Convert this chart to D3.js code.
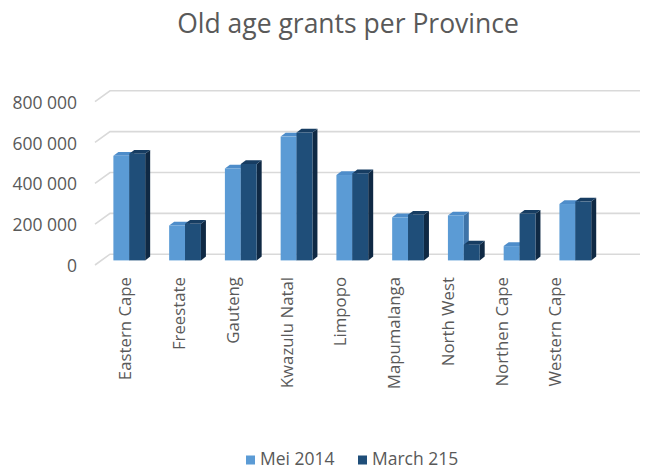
<!DOCTYPE html>
<html>
<head>
<meta charset="utf-8">
<script src="https://cdn.jsdelivr.net/npm/d3@7"></script>
<style>
  html, body { margin: 0; padding: 0; background: #fff; }
  svg { display: block; font-family: "Open Sans", sans-serif; }
</style>
</head>
<body>
<svg id="chart" width="663" height="470"></svg>
<script>
// Old age grants per province, two reporting periods
const categories = ["Eastern Cape", "Freestate", "Gauteng", "Kwazulu Natal", "Limpopo",
                    "Mapumalanga", "North West", "Northen Cape", "Western Cape"];
const mei2014   = [512000, 171000, 450000, 606000, 418000, 211000, 220000, 70000, 276000];
const march215  = [522000, 179000, 472000, 626000, 426000, 223000, 77000, 228000, 288000];
const seriesNames = ["Mei 2014", "March 215"];
const yTicks = [0, 200000, 400000, 600000, 800000];
const yTickLabels = ["0", "200 000", "400 000", "600 000", "800 000"];

const svg = d3.select("#chart");

// 3D layout: front plane, back wall and bar depth offsets
const wallDepth = { dx: 15, dy: -10.8 };
const barPlane  = { dx: 6.5, dy: -4.6 };
const barDepth  = { dx: 5, dy: -3.8 };

const y = d3.scaleLinear().domain([0, 800000]).range([265, 101.6]);
const xBar = d3.scaleBand().domain(categories).range([101.4, 603.2])
  .paddingInner(0.43).paddingOuter(0.215);
const xSeries = d3.scaleBand().domain(seriesNames).range([0, xBar.bandwidth()]);
const xLabel = d3.scaleBand().domain(categories).range([98.6, 582.4]);

const colors = {
  "Mei 2014":  { front: "#5b9bd5", top: "#4e8dca", side: "#3f74a8" },
  "March 215": { front: "#1f4e79", top: "#173d62", side: "#0f2944" }
};

// Title
svg.append("text")
  .attr("x", 348).attr("y", 33)
  .attr("text-anchor", "middle")
  .attr("font-size", 26.5)
  .attr("fill", "#595959")
  .text("Old age grants per Province");

// Gridlines: short slant across the side wall, then along the back wall
const gridRight = 640;
const grid = svg.append("g").attr("stroke", "#d9d9d9").attr("stroke-width", 1.6).attr("fill", "none");
const frontLeft = 95;
yTicks.forEach(t => {
  const yf = y(t);
  grid.append("path")
    .attr("d", `M${frontLeft},${yf} L${frontLeft + wallDepth.dx},${yf + wallDepth.dy} L${gridRight},${yf + wallDepth.dy}`);
});

// Y axis labels
svg.append("g").selectAll("text")
  .data(yTicks)
  .join("text")
  .attr("x", 77)
  .attr("y", d => y(d) + 1)
  .attr("dy", "0.35em")
  .attr("text-anchor", "end")
  .attr("font-size", 17.5)
  .attr("fill", "#595959")
  .text((d, i) => yTickLabels[i]);

// Bars drawn as prisms: front face, top face, right side face
const rows = [];
categories.forEach((c, i) => {
  rows.push({ cat: c, series: "Mei 2014", value: mei2014[i] });
  rows.push({ cat: c, series: "March 215", value: march215[i] });
});

const bars = svg.append("g");
rows.forEach(r => {
  const x0 = xBar(r.cat) + xSeries(r.series);
  const w = xSeries.bandwidth();
  const yTop = y(r.value) + barPlane.dy;
  const yBase = y(0) + barPlane.dy;
  const c = colors[r.series];
  const g = bars.append("g");
  const dx = barDepth.dx, dy = barDepth.dy;
  // side
  g.append("path")
    .attr("d", `M${x0 + w},${yTop} L${x0 + w + dx},${yTop + dy} L${x0 + w + dx},${yBase + dy} L${x0 + w},${yBase} Z`)
    .attr("fill", c.side);
  // top
  g.append("path")
    .attr("d", `M${x0},${yTop} L${x0 + dx},${yTop + dy} L${x0 + w + dx},${yTop + dy} L${x0 + w},${yTop} Z`)
    .attr("fill", c.top);
  // front
  g.append("rect")
    .attr("x", x0).attr("y", yTop)
    .attr("width", w).attr("height", yBase - yTop)
    .attr("fill", c.front);
});

// Category labels, rotated
svg.append("g").selectAll("text")
  .data(categories)
  .join("text")
  .attr("transform", d => `translate(${xLabel(d) + xLabel.bandwidth() / 2},277) rotate(-90)`)
  .attr("dy", "0.35em")
  .attr("text-anchor", "end")
  .attr("font-size", 16.8)
  .attr("fill", "#595959")
  .text(d => d);

// Legend
const legendX = [246, 358];
const legend = svg.append("g");
seriesNames.forEach((s, i) => {
  legend.append("rect")
    .attr("x", legendX[i]).attr("y", 455.5)
    .attr("width", 9).attr("height", 9)
    .attr("fill", colors[s].front);
  legend.append("text")
    .attr("x", legendX[i] + 14).attr("y", 464.5)
    .attr("font-size", 17.5)
    .attr("fill", "#595959")
    .text(s);
});
</script>
</body>
</html>
